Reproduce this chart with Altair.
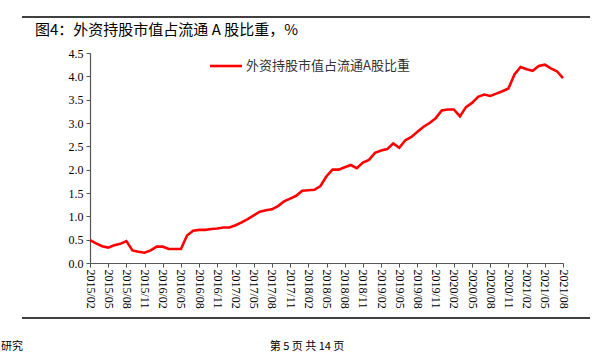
import altair as alt
import pandas as pd

months = []
y, m = 2015, 2
for _ in range(79):
    months.append(f"{y}/{m:02d}")
    m += 1
    if m > 12:
        m = 1
        y += 1

values = [0.49, 0.42, 0.36, 0.33, 0.38, 0.41, 0.47, 0.27, 0.24, 0.22,
          0.27, 0.35, 0.35, 0.30, 0.30, 0.30, 0.59, 0.69, 0.71, 0.71,
          0.73, 0.74, 0.76, 0.76, 0.81, 0.87, 0.94, 1.02, 1.10, 1.13,
          1.15, 1.22, 1.32, 1.38, 1.44, 1.55, 1.56, 1.57, 1.65, 1.86,
          2.00, 2.00, 2.05, 2.10, 2.03, 2.15, 2.21, 2.36, 2.41, 2.44,
          2.56, 2.47, 2.63, 2.70, 2.81, 2.92, 3.00, 3.10, 3.27, 3.29,
          3.29, 3.14, 3.34, 3.43, 3.56, 3.61, 3.58, 3.63, 3.68, 3.74,
          4.04, 4.20, 4.15, 4.12, 4.22, 4.25, 4.17, 4.11, 3.96]

tick_labels = months[::3]
series_name = "外资持股市值占流通A股比重"
title_text = "图4：外资持股市值占流通 A 股比重，%"

df = pd.DataFrame({"date": months, "value": values})

W, H = 473, 210
serif = "Liberation Serif"
cjk = "Noto Sans CJK SC"

line = alt.Chart(df).mark_line(color="#ff0000", strokeWidth=2.6).encode(
    x=alt.X("date:O", sort=None,
            scale=alt.Scale(type="point", padding=0),
            axis=alt.Axis(values=tick_labels, labelAngle=90, labelAlign="left",
                          labelBaseline="middle", labelFont=serif, labelFontSize=12,
                          labelColor="#000000", tickSize=4, tickColor="#555555",
                          domainColor="#555555", domainWidth=1.2, labelPadding=2,
                          title=None, grid=False, labelOverlap=False)),
    y=alt.Y("value:Q",
            scale=alt.Scale(domain=[0, 4.5], nice=False),
            axis=alt.Axis(values=[0, 0.5, 1, 1.5, 2, 2.5, 3, 3.5, 4, 4.5], format=".1f",
                          labelFont=serif, labelFontSize=12, labelColor="#000000",
                          tickSize=4, tickColor="#555555", domainColor="#555555",
                          domainWidth=1.2, labelPadding=3, title=None, grid=False)),
)

rules = alt.Chart(pd.DataFrame({"k": [0]})).mark_rule(color="#000000", strokeWidth=1.5).encode(
    x=alt.value(22 - 90), x2=alt.value(590 - 90), y=alt.value(17 - 53))
rules2 = alt.Chart(pd.DataFrame({"k": [0]})).mark_rule(color="#000000", strokeWidth=1.5).encode(
    x=alt.value(22 - 90), x2=alt.value(590 - 90), y=alt.value(318 - 53))

leg_line = alt.Chart(pd.DataFrame({"k": [0]})).mark_rule(color="#ff0000", strokeWidth=2.6).encode(
    x=alt.value(210 - 90), x2=alt.value(242 - 90), y=alt.value(66 - 53))
leg_text = alt.Chart(pd.DataFrame({"t": [series_name]})).mark_text(
    align="left", baseline="middle", font=cjk, fontSize=13, color="#333333").encode(
    x=alt.value(246 - 90), y=alt.value(66 - 53), text="t:N")

title = alt.Chart(pd.DataFrame({"t": [title_text]})).mark_text(
    align="left", baseline="middle", font=cjk, fontSize=15, color="#000000").encode(
    x=alt.value(35 - 90), y=alt.value(30 - 53), text="t:N")

foot1 = alt.Chart(pd.DataFrame({"t": ["研究"]})).mark_text(
    align="left", baseline="bottom", font=cjk, fontSize=11, color="#000000").encode(
    x=alt.value(1 - 90), y=alt.value(352 - 53), text="t:N")
foot2 = alt.Chart(pd.DataFrame({"t": ["第 5 页  共 14 页"]})).mark_text(
    align="center", baseline="bottom", font=cjk, fontSize=11, color="#000000").encode(
    x=alt.value(307 - 90), y=alt.value(352 - 53), text="t:N")

chart = alt.layer(line, rules, rules2, leg_line, leg_text, title, foot1, foot2).properties(
    width=W, height=H,
    autosize=alt.AutoSizeParams(type="none"),
    padding={"left": 90, "top": 53, "right": 43, "bottom": 89},
    background="#ffffff",
).configure_view(stroke=None)

chart.save("out.html", embed_options={"renderer": "svg", "actions": False})
